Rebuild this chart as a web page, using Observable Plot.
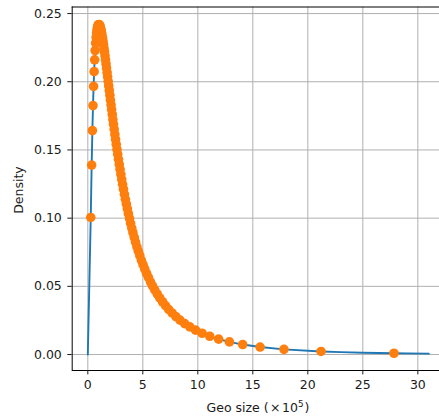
<!DOCTYPE html>
<html>
<head>
<meta charset="utf-8">
<script src="https://cdn.jsdelivr.net/npm/d3@7"></script>
<script src="https://cdn.jsdelivr.net/npm/@observablehq/plot@0.6"></script>
<style>
  html, body { margin: 0; padding: 0; background: #fff; }
  svg { display: block; }
</style>
</head>
<body>
<div id="chart"></div>
<script>
// ---- data ----
const dotX = [
  0.266, 0.349, 0.414, 0.472, 0.525, 0.574, 0.621, 0.667, 0.711, 0.754,
  0.797, 0.840, 0.882, 0.923, 0.965, 1.006, 1.047, 1.089, 1.130, 1.171,
  1.214, 1.256, 1.298, 1.342, 1.386, 1.429, 1.473, 1.517, 1.564, 1.610,
  1.655, 1.702, 1.751, 1.800, 1.850, 1.900, 1.950, 2.004, 2.056, 2.111,
  2.164, 2.221, 2.280, 2.337, 2.396, 2.460, 2.522, 2.586, 2.651, 2.718,
  2.787, 2.858, 2.930, 3.004, 3.083, 3.161, 3.241, 3.327, 3.415, 3.501,
  3.593, 3.688, 3.789, 3.889, 3.995, 4.104, 4.221, 4.341, 4.464, 4.591,
  4.726, 4.870, 5.018, 5.171, 5.334, 5.507, 5.692, 5.883, 6.086, 6.309,
  6.540, 6.787, 7.057, 7.345, 7.660, 8.005, 8.381, 8.802, 9.272, 9.796,
  10.39, 11.08, 11.89, 12.87, 14.08, 15.66, 17.83, 21.20, 27.83
];
const dotY = [
  0.1005, 0.1389, 0.1642, 0.1825, 0.1966, 0.2074, 0.2161, 0.2229, 0.2283, 0.2325,
  0.2358, 0.2383, 0.2401, 0.2412, 0.2418, 0.2420, 0.2417, 0.2411, 0.2402, 0.2390,
  0.2375, 0.2357, 0.2338, 0.2317, 0.2294, 0.2271, 0.2245, 0.2218, 0.2190, 0.2161,
  0.2131, 0.2100, 0.2068, 0.2036, 0.2003, 0.1969, 0.1936, 0.1901, 0.1866, 0.1831,
  0.1796, 0.1760, 0.1723, 0.1688, 0.1652, 0.1614, 0.1577, 0.1541, 0.1504, 0.1468,
  0.1431, 0.1394, 0.1358, 0.1321, 0.1284, 0.1248, 0.1212, 0.1175, 0.1138, 0.1104,
  0.1068, 0.1033, 0.0997, 0.0962, 0.0927, 0.0893, 0.0858, 0.0824, 0.0790, 0.0758,
  0.0725, 0.0691, 0.0659, 0.0628, 0.0596, 0.0565, 0.0533, 0.0503, 0.0474, 0.0444,
  0.0415, 0.0387, 0.0359, 0.0331, 0.0305, 0.0278, 0.0252, 0.0227, 0.0203, 0.0179,
  0.0156, 0.0134, 0.0113, 0.00925, 0.00732, 0.00550, 0.00381, 0.00228, 0.00096
];
// blue curve: starts at the origin, runs through the dots, then the tail
const lineStartX = [0];
const lineStartY = [0];
const lineTailX = [23, 25, 27.83, 29, 31];
const lineTailY = [0.00178, 0.00136, 0.00096, 0.00084, 0.00067];

const xTicks = [0, 5, 10, 15, 20, 25, 30];
const yTicks = [0, 0.05, 0.10, 0.15, 0.20, 0.25];
const xDomain = [-1.42, 31.97];
const yDomain = [-0.0117, 0.2548];

const xLabel = "Geo size (";
const yLabel = "Density";

// ---- build tables ----
const dots = dotX.map((x, i) => ({x, y: dotY[i]}));
const curve = [];
lineStartX.forEach((x, i) => curve.push({x, y: lineStartY[i]}));
dotX.slice(0, 98).forEach((x, i) => curve.push({x, y: dotY[i]}));
lineTailX.forEach((x, i) => curve.push({x, y: lineTailY[i]}));

const W = 439, H = 419;
const mL = 71.7, mT = 6.5, mB = 49, mR = 0;

const chart = Plot.plot({
  width: W,
  height: H,
  marginLeft: mL,
  marginRight: mR,
  marginTop: mT,
  marginBottom: mB,
  style: {fontFamily: "DejaVu Sans", fontSize: "12.5px", color: "#1a1a1a", background: "#fff"},
  x: {domain: xDomain},
  y: {domain: yDomain},
  marks: [
    Plot.gridX(xTicks, {stroke: "#b0b0b0", strokeOpacity: 1, strokeWidth: 1}),
    Plot.gridY(yTicks, {stroke: "#b0b0b0", strokeOpacity: 1, strokeWidth: 1}),
    Plot.line(curve, {x: "x", y: "y", stroke: "#1f77b4", strokeWidth: 1.9}),
    Plot.dot(dots, {x: "x", y: "y", r: 4.8, fill: "#ff7f0e", stroke: "none"}),
    Plot.ruleX([xDomain[0]], {stroke: "#000", strokeWidth: 1}),
    Plot.ruleY(yDomain, {stroke: "#000", strokeWidth: 1}),
    Plot.axisX(xTicks, {tickSize: 4.4, tickPadding: 5, label: null, fontSize: 12.5}),
    Plot.axisY(yTicks, {tickSize: 4.4, tickPadding: 6, label: null, fontSize: 12.5, tickFormat: d3.format(".2f")})
  ]
});

document.getElementById("chart").appendChild(chart);

// axis titles
const svg = d3.select(chart);
const xt = svg.append("text")
  .attr("x", 258).attr("y", 411.5)
  .attr("text-anchor", "middle")
  .attr("fill", "#1a1a1a")
  .style("font-family", "DejaVu Sans").style("font-size", "12.5px");
xt.append("tspan").text(xLabel);
xt.append("tspan").text("\u00d7").attr("dx", 1.5);
xt.append("tspan").text("10").attr("dx", 1.5);
xt.append("tspan").text("5").attr("dy", -5).style("font-size", "8.8px");
xt.append("tspan").text(")").attr("dy", 5).attr("dx", 1);

svg.append("text")
  .attr("transform", "translate(22.5,190) rotate(-90)")
  .attr("text-anchor", "middle")
  .attr("fill", "#1a1a1a")
  .style("font-family", "DejaVu Sans").style("font-size", "12.5px")
  .text(yLabel);
</script>
</body>
</html>
